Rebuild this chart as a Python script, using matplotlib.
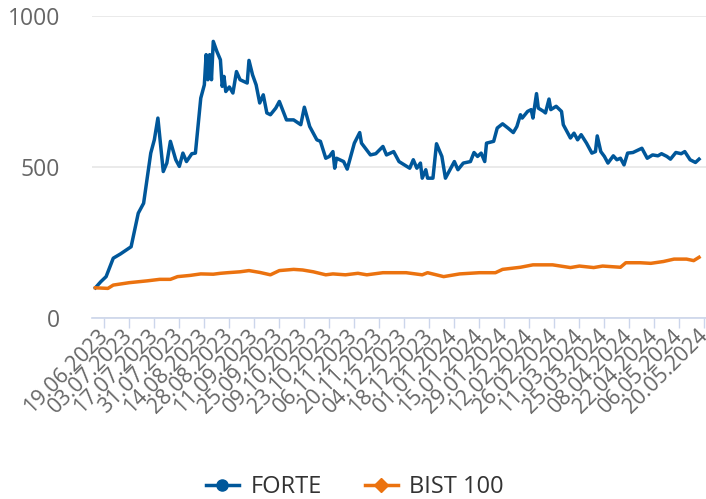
import numpy as np
import pandas as pd
from matplotlib import pyplot as plt
from matplotlib.lines import Line2D
import matplotlib.dates as mdates

plt.rcParams['font.family'] = ['Open Sans', 'DejaVu Sans']

# Values (days after 19.06.2023, index value)
start = pd.Timestamp('2023-06-19')
forte_days = [-5, -2, 1, 5, 9, 15, 19, 22, 26, 28, 30, 33, 35, 37, 40, 42, 44, 46, 49, 51,
              54, 56, 57, 58, 59, 60, 61, 63, 65, 66, 67, 68, 70, 72, 74, 76, 80, 81, 83, 85,
              87, 89, 91, 93, 96, 98, 102, 106, 110, 112, 115, 119, 121, 124, 126, 128, 129, 130, 134, 136,
              140, 143, 144, 149, 152, 156, 158, 162, 165, 168, 171, 173, 175, 177, 178, 180, 181, 184, 186, 189,
              191, 194, 196, 198, 201, 205, 207, 209, 211, 213, 214, 218, 220, 223, 226, 229, 231, 233, 234, 237,
              239, 240, 242, 243, 246, 247, 249, 250, 253, 256, 257, 261, 263, 265, 267, 270, 273, 275, 276, 278,
              280, 282, 285, 287, 289, 291, 293, 296, 301, 304, 307, 310, 312, 315, 317, 320, 323, 325, 328, 331, 333]
forte_vals = [100, 120, 137, 198, 212, 236, 347, 380, 546, 590, 662, 485, 513, 585, 524, 502, 546, 518, 544, 546,
              728, 772, 872, 789, 872, 789, 916, 883, 855, 767, 800, 750, 765, 745, 816, 789, 778, 853, 805, 772,
              712, 739, 679, 673, 695, 717, 656, 656, 640, 698, 634, 590, 585, 529, 535, 551, 496, 529, 518, 493,
              579, 614, 579, 540, 544, 568, 540, 551, 518, 507, 496, 524, 496, 513, 463, 491, 463, 463, 577, 535,
              463, 496, 518, 491, 513, 518, 548, 535, 546, 518, 579, 585, 629, 643, 629, 614, 634, 673, 662, 684,
              690, 662, 743, 695, 684, 679, 725, 690, 701, 684, 640, 596, 612, 590, 607, 579, 546, 551, 603, 551,
              535, 513, 537, 524, 529, 507, 546, 548, 562, 529, 540, 537, 544, 535, 526, 548, 544, 551, 524, 515, 526]

bist_days = [-5, 2, 5, 14, 24, 31, 37, 41, 48, 54, 61, 65, 69, 76, 81, 87, 93, 98, 106, 111,
             117, 124, 128, 135, 142, 147, 156, 169, 178, 181, 190, 199, 210, 219, 223, 233, 240, 251, 261, 266,
             274, 279, 284, 289, 292, 300, 306, 313, 319, 326, 330, 333]
bist_vals = [100, 98, 109, 117, 123, 128, 128, 137, 141, 146, 145, 148, 150, 153, 157, 151, 143, 157, 161, 159,
             153, 143, 146, 143, 148, 143, 150, 150, 143, 150, 137, 146, 150, 150, 161, 168, 176, 176, 167, 172,
             167, 172, 170, 168, 183, 183, 181, 187, 195, 195, 190, 201]

series_names = ['FORTE', 'BIST 100']
colors = ['#00579a', '#eb720f']
y_ticks = [0, 500, 1000]

forte_dates = start + pd.to_timedelta(forte_days, unit='D')
bist_dates = start + pd.to_timedelta(bist_days, unit='D')
tick_dates = pd.date_range('2023-06-19', '2024-05-20', freq='14D')

fig = plt.figure(figsize=(7.06, 4.99), dpi=100)
ax = fig.add_axes([92 / 706, 1 - 318 / 499, 614 / 706, 302 / 499])

ax.plot(forte_dates, forte_vals, color=colors[0], linewidth=2.5, solid_joinstyle='round', zorder=3)
ax.plot(bist_dates, bist_vals, color=colors[1], linewidth=2.5, solid_joinstyle='round', zorder=3)

ax.set_ylim(0, 1000)
ax.set_xlim(start - pd.Timedelta(days=6.9), start + pd.Timedelta(days=336.9))
ax.set_yticks(y_ticks)
ax.set_yticklabels([str(v) for v in y_ticks])
ax.yaxis.grid(True, color='#e6e6e6', linewidth=1.2)
ax.set_axisbelow(True)

ax.set_xticks(tick_dates)
ax.xaxis.set_major_formatter(mdates.DateFormatter('%d.%m.%Y'))
for lab in ax.get_xticklabels():
    lab.set_rotation(45)
    lab.set_rotation_mode('anchor')
    lab.set_ha('right')
    lab.set_va('center')

for s in ['top', 'right', 'left']:
    ax.spines[s].set_visible(False)
ax.spines['bottom'].set_color('#ccd6eb')
ax.spines['bottom'].set_linewidth(1.2)
ax.spines['bottom'].set_zorder(4)

ax.tick_params(axis='x', direction='out', length=7.5, width=1, color='#ccd6eb',
               labelsize=15.5, labelcolor='#666666', pad=3)
ax.tick_params(axis='y', length=0, labelsize=16.5, labelcolor='#666666', pad=23)

handles = [Line2D([], [], color=colors[0], linewidth=2.5, marker='o', markersize=8),
           Line2D([], [], color=colors[1], linewidth=2.5, marker='D', markersize=7)]
fig.legend(handles, series_names, loc='center', bbox_to_anchor=(355 / 706, 1 - 487 / 499),
           ncol=2, frameon=False, fontsize=17, handlelength=1.4, handletextpad=0.5,
           columnspacing=1.8, labelcolor='#333333')

plt.savefig('out.png', dpi=100)
